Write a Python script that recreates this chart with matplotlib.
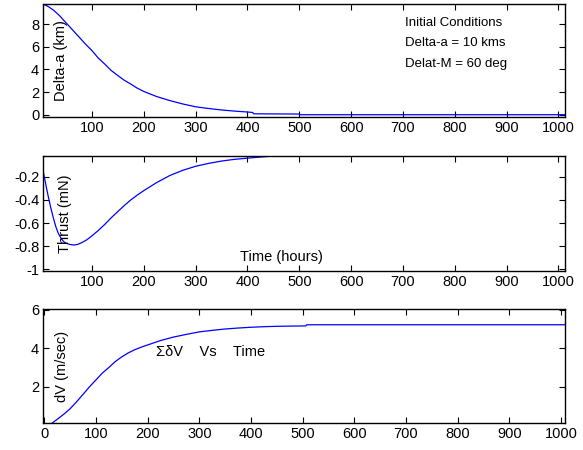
import matplotlib
matplotlib.use("Agg")
import matplotlib.pyplot as plt

plt.rcParams['font.family'] = ['Liberation Sans', 'DejaVu Sans']
plt.rcParams['axes.unicode_minus'] = False

# semi-major axis offset (km) vs time (hours)
t_da = [6, 15, 25, 37, 50, 62, 75, 87, 100, 112, 125, 137, 150, 162, 175,
        187, 200, 225, 250, 275, 300, 325, 350, 375, 400, 410, 412, 500,
        502, 1013]
delta_a = [9.75, 9.55, 9.25, 8.75, 8.1, 7.5, 6.85, 6.25, 5.65, 5.0, 4.45,
           3.9, 3.45, 3.05, 2.7, 2.35, 2.05, 1.6, 1.25, 0.95, 0.7, 0.55,
           0.42, 0.32, 0.24, 0.2, 0.08, 0.06, 0.0, 0.0]

# thrust (mN) vs time (hours)
t_thr = [6, 10, 15, 20, 25, 30, 35, 40, 45, 50, 57, 65, 72, 80, 90, 100,
         112, 125, 137, 150, 162, 175, 187, 200, 225, 250, 275, 300, 325,
         350, 375, 400, 425, 450, 475, 500, 1013]
thrust = [-0.16, -0.25, -0.36, -0.46, -0.55, -0.63, -0.69, -0.73, -0.76,
          -0.775, -0.785, -0.79, -0.785, -0.77, -0.745, -0.71, -0.665, -0.61,
          -0.555, -0.50, -0.45, -0.40, -0.36, -0.32, -0.25, -0.19, -0.145,
          -0.11, -0.085, -0.065, -0.05, -0.04, -0.03, -0.022, -0.015, -0.01,
          0.0]

# accumulated delta-V (m/sec) vs time (hours)
t_dv = [5, 15, 25, 37, 50, 62, 75, 87, 100, 112, 125, 137, 150, 162, 175,
        187, 200, 225, 250, 275, 300, 325, 350, 375, 400, 425, 450, 475, 506,
        508, 1010]
dv = [0.0, 0.1, 0.3, 0.55, 0.85, 1.2, 1.6, 1.98, 2.35, 2.7, 3.0, 3.3, 3.55,
      3.75, 3.92, 4.05, 4.17, 4.4, 4.58, 4.72, 4.85, 4.93, 5.0, 5.05, 5.09,
      5.12, 5.14, 5.15, 5.16, 5.22, 5.22]

fig = plt.figure(figsize=(5.83, 4.5), dpi=100)
ax1 = fig.add_axes([0.0743, 0.740, 0.895, 0.251])
ax2 = fig.add_axes([0.0743, 0.3984, 0.895, 0.255])
ax3 = fig.add_axes([0.0743, 0.0593, 0.895, 0.254])

for ax in (ax1, ax2, ax3):
    ax.tick_params(direction='in', top=True, right=True, length=4,
                   width=0.8, labelsize=10.5, pad=3)
    for s in ax.spines.values():
        s.set_linewidth(1.0)

ax1.plot(t_da, delta_a, color='#0000ff', lw=0.9)
ax1.set_xlim(6, 1013)
ax1.set_ylim(-0.2, 9.76)
ax1.set_xticks(range(100, 1001, 100))
ax1.set_yticks([0, 2, 4, 6, 8])
ax1.text(0.033, 0.5, 'Delta-a (km)', transform=ax1.transAxes, rotation=90,
         ha='center', va='center', fontsize=10.5)
ax1.text(0.694, 0.835, 'Initial Conditions', transform=ax1.transAxes,
         ha='left', va='center', fontsize=9.5)
ax1.text(0.694, 0.655, 'Delta-a = 10 kms', transform=ax1.transAxes,
         ha='left', va='center', fontsize=9.5)
ax1.text(0.694, 0.465, 'Delat-M = 60 deg', transform=ax1.transAxes,
         ha='left', va='center', fontsize=9.5)

ax2.plot(t_thr, thrust, color='#0000ff', lw=0.9)
ax2.set_xlim(6, 1013)
ax2.set_ylim(-1.012, -0.021)
ax2.set_xticks(range(100, 1001, 100))
ax2.set_yticks([-1, -0.8, -0.6, -0.4, -0.2])
ax2.set_yticklabels(['-1', '-0.8', '-0.6', '-0.4', '-0.2'])
ax2.text(0.042, 0.5, 'Thrust (mN)', transform=ax2.transAxes, rotation=90,
         ha='center', va='center', fontsize=10.5)
ax2.text(0.456, 0.12, 'Time (hours)', transform=ax2.transAxes,
         ha='center', va='center', fontsize=10.5)

ax3.plot(t_dv, dv, color='#0000ff', lw=0.9)
ax3.set_xlim(-2, 1008)
ax3.set_ylim(0.09, 6.04)
ax3.set_xticks(range(0, 1001, 100))
ax3.set_yticks([2, 4, 6])
ax3.text(0.035, 0.5, 'dV (m/sec)', transform=ax3.transAxes, rotation=90,
         ha='center', va='center', fontsize=10.5)
ax3.text(0.215, 0.625, '\u03a3\u03b4V    Vs    Time', transform=ax3.transAxes,
         ha='left', va='center', fontsize=10.5)

fig.savefig('out.png', dpi=100)
